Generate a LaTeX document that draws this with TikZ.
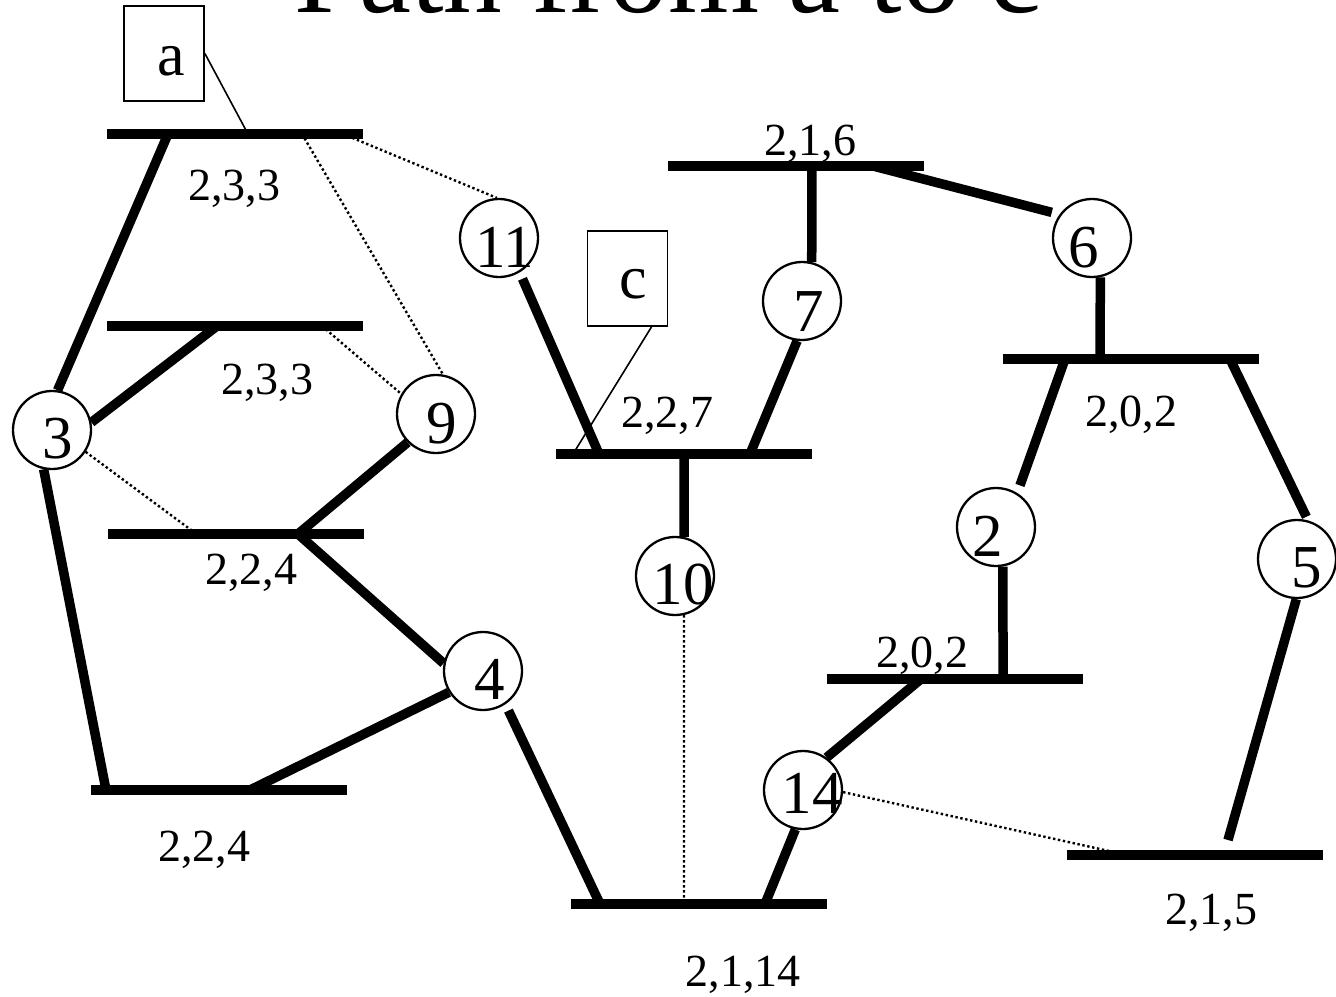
\documentclass[tikz,border=0pt]{standalone}
\usepackage{fontspec}
\setmainfont{Liberation Serif}
% place a glyph inside a fixed-size node: horizontal offset, drop of the baseline below the centre
\newcommand\glyphat[3]{\raisebox{-#2}[0pt][0pt]{\makebox[0pt][c]{\kern#1\kern#1\relax#3}}}
\begin{document}
\begin{tikzpicture}[x=1pt,y=-1pt,
  bar/.style={rectangle, fill=black, draw=none, minimum width=256pt, minimum height=10pt, inner sep=0pt, outer sep=0pt},
  conn/.style={line width=9.5pt, line cap=butt},
  dotconn/.style={line width=2.4pt, dash pattern=on 2.4pt off 2.6pt},
  pointer/.style={line width=1.6pt},
  vert/.style={circle, draw, line width=2.3pt, minimum size=78pt, inner sep=0pt, font=\fontsize{61}{72}\selectfont},
  tag/.style={anchor=base, inner sep=0pt, font=\fontsize{46}{54}\selectfont},
  boxnode/.style={rectangle, draw, line width=1.8pt, minimum width=80pt, minimum height=95pt, inner sep=0pt, font=\fontsize{62}{72}\selectfont},
  title/.style={anchor=base, inner sep=0pt, font=\fontsize{117}{140}\selectfont}]
\useasboundingbox (0,0) rectangle (1336,996);
\clip (0,0) rectangle (1336,996);

% heading
\node[title] (title) at (668,12) {Path from a to c};

% bars
\node[bar] (b1) at (235,134) {};
\node[bar] (b2) at (235,326) {};
\node[bar] (b3) at (236,534) {};
\node[bar] (b4) at (219,790) {};
\node[bar] (b5) at (683.5,454) {};
\node[bar] (b6) at (795.5,166) {};
\node[bar] (b7) at (1131,359) {};
\node[bar] (b8) at (955,679) {};
\node[bar] (b9) at (699,904) {};
\node[bar] (b10) at (1195,855) {};

% bar labels
\node[tag] (t1) at (234,200) {2,3,3};
\node[tag] (t2) at (267,394) {2,3,3};
\node[tag] (t3) at (251,584) {2,2,4};
\node[tag] (t4) at (204,861) {2,2,4};
\node[tag] (t5) at (667,427) {2,2,7};
\node[tag] (t6) at (810,155) {2,1,6};
\node[tag] (t7) at (1131,426) {2,0,2};
\node[tag] (t8) at (922,667) {2,0,2};
\node[tag] (t9) at (743,986) {2,1,14};
\node[tag] (t10) at (1211,924) {2,1,5};

% endpoint boxes
\node[boxnode] (abox) at (164,53.5) {\glyphat{7pt}{21.5pt}{a}};
\node[boxnode] (cbox) at (627.5,278.5) {\glyphat{5.5pt}{19.5pt}{c}};

% numbered vertices
\node[vert] (c3) at (52,430) {\glyphat{6pt}{28pt}{3}};
\node[vert] (c9) at (436,414) {\glyphat{6pt}{29pt}{9}};
\node[vert] (c11) at (499,238) {\glyphat{6pt}{29pt}{11}};
\node[vert] (c7) at (802,301) {\glyphat{7pt}{30pt}{7}};
\node[vert] (c6) at (1092,238) {\glyphat{-8pt}{29pt}{6}};
\node[vert] (c4) at (483,671) {\glyphat{7pt}{28pt}{4}};
\node[vert] (c10) at (675,576) {\glyphat{8pt}{28pt}{10}};
\node[vert] (c2) at (996,527) {\glyphat{-8pt}{29pt}{2}};
\node[vert] (c5) at (1297,559) {\glyphat{10pt}{28pt}{5}};
\node[vert] (c14) at (803,790) {\glyphat{9pt}{23pt}{14}};

% thick connectors
\draw[conn] ([xshift=-67pt]b1.center) -- (c3.82);
\draw[conn] ([xshift=-18pt]b2.center) -- (c3.11);
\draw[conn] (c3.-102) -- ([xshift=-113pt]b4.center);
\draw[conn] ([xshift=62pt]b3.center) -- (c9.225);
\draw[conn] ([xshift=62pt]b3.center) -- (c4.169);
\draw[conn] ([xshift=31pt]b4.center) -- (c4.212);
\draw[conn, shorten <=7pt] (c4.-56) -- ([xshift=-99pt]b9.center);
\draw[conn, shorten <=7pt] (c11.-59) -- ([xshift=-84.5pt]b5.center);
\draw[conn] (c7.263) -- ([xshift=66.5pt]b5.center);
\draw[conn] ([xshift=16.5pt]b6.center) -- (c7.76);
\draw[conn, shorten >=8pt] ([xshift=77.5pt]b6.center) -- (c6.144);
\draw[conn] (c6.-78) -- ([xshift=-31pt]b7.center);
\draw[conn] ([xshift=0.5pt]b5.center) -- (c10.77);
\draw[conn, shorten >=8pt] ([xshift=-66pt]b7.center) -- (c2.58);
\draw[conn, shorten >=4pt] ([xshift=99pt]b7.center) -- (c5.74);
\draw[conn] (c5.-91) -- ([xshift=33pt,yshift=15pt]b10.center);
\draw[conn] (c2.-80) -- ([xshift=48pt]b8.center);
\draw[conn] (c14.54) -- ([xshift=-34pt]b8.center);
\draw[conn] (c14.-101) -- ([xshift=66pt]b9.center);

% dotted connectors
\draw[dotconn] ([xshift=67pt]b1.center) -- (c9.80);
\draw[dotconn] ([xshift=87pt]b2.center) -- (c9.150);
\draw[dotconn] ([xshift=108pt]b1.center) -- (c11.93);
\draw[dotconn] (c3.-33) -- ([xshift=-39.5pt]b3.center);
\draw[dotconn] (c10.-77) -- ([xshift=-15pt]b9.center);
\draw[dotconn] (c14.-3) -- ([xshift=-68pt]b10.center);

% box pointers
\draw[pointer] (abox.east) -- ([xshift=13pt]b1.center);
\draw[pointer] ([xshift=24pt]cbox.south) -- ([xshift=-110.5pt]b5.center);
\end{tikzpicture}
\end{document}
